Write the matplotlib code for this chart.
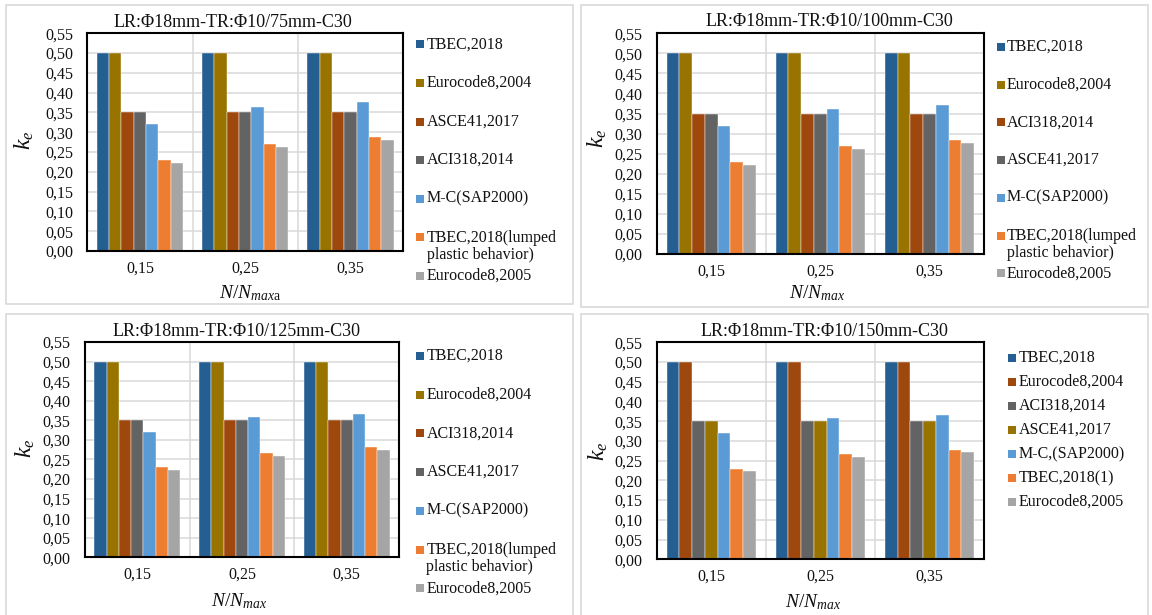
import numpy as np
import matplotlib
matplotlib.use("Agg")
import matplotlib.pyplot as plt
from matplotlib.patches import Rectangle
from matplotlib.ticker import FixedLocator, FuncFormatter
from matplotlib.transforms import Affine2D

plt.rcParams["font.family"] = ["Liberation Serif", "DejaVu Serif"]
plt.rcParams["mathtext.fontset"] = "custom"
plt.rcParams["mathtext.rm"] = "Liberation Serif"
plt.rcParams["mathtext.it"] = "Liberation Serif:italic"

# ---------------------------------------------------------------- data
categories = ["0,15", "0,25", "0,35"]

titles = [
    "LR:Φ18mm-TR:Φ10/75mm-C30",
    "LR:Φ18mm-TR:Φ10/100mm-C30",
    "LR:Φ18mm-TR:Φ10/125mm-C30",
    "LR:Φ18mm-TR:Φ10/150mm-C30",
]

xlabels = [r"$N/N_{max\mathrm{a}}$", r"$N/N_{max}$", r"$N/N_{max}$", r"$N/N_{max}$"]

labels_75 = ["TBEC,2018", "Eurocode8,2004", "ASCE41,2017", "ACI318,2014",
             "M-C(SAP2000)", "TBEC,2018(lumped\nplastic behavior)", "Eurocode8,2005"]
labels_100 = ["TBEC,2018", "Eurocode8,2004", "ACI318,2014", "ASCE41,2017",
              "M-C(SAP2000)", "TBEC,2018(lumped\nplastic behavior)", "Eurocode8,2005"]
labels_125 = labels_100
labels_150 = ["TBEC,2018", "Eurocode8,2004", "ACI318,2014", "ASCE41,2017",
              "M-C,(SAP2000)", "TBEC,2018(1)", "Eurocode8,2005"]

# code-based stiffness ratios (same for every N/Nmax)
tbec_2018 = [0.50, 0.50, 0.50]
ec8_2004 = [0.50, 0.50, 0.50]
aci_318 = [0.35, 0.35, 0.35]
asce_41 = [0.35, 0.35, 0.35]

# moment-curvature and lumped-plasticity results per stirrup spacing
mc_75 = [0.321, 0.363, 0.376]
lumped_75 = [0.230, 0.270, 0.287]
ec8_2005_75 = [0.223, 0.263, 0.280]

mc_100 = [0.320, 0.361, 0.371]
lumped_100 = [0.229, 0.269, 0.284]
ec8_2005_100 = [0.223, 0.261, 0.277]

mc_125 = [0.319, 0.358, 0.367]
lumped_125 = [0.230, 0.267, 0.281]
ec8_2005_125 = [0.223, 0.260, 0.274]

mc_150 = [0.320, 0.359, 0.366]
lumped_150 = [0.230, 0.268, 0.278]
ec8_2005_150 = [0.223, 0.259, 0.273]

# ---------------------------------------------------------------- styles
BLUE, OLIVE, RUST, DGRAY = "#255E91", "#997300", "#9E480E", "#636363"
LBLUE, ORANGE, LGRAY = "#5B9BD5", "#ED7D31", "#A5A5A5"
colors_std = [BLUE, OLIVE, RUST, DGRAY, LBLUE, ORANGE, LGRAY]
colors_150 = [BLUE, RUST, DGRAY, OLIVE, LBLUE, ORANGE, LGRAY]

panels = [
    dict(title=titles[0], xlabel=xlabels[0], labels=labels_75, colors=colors_std,
         series=[tbec_2018, ec8_2004, asce_41, aci_318, mc_75, lumped_75, ec8_2005_75],
         ax=(87.3, 403.3, 33.3, 251.0), frame=(6, 5, 572.7, 304),
         title_xy=(233, 22.5), ylab_xy=(24.5, 140), xlab_xy=(250, 298.3),
         leg=(420, 426.7, 44.3, 38.6)),
    dict(title=titles[1], xlabel=xlabels[1], labels=labels_100, colors=colors_std,
         series=[tbec_2018, ec8_2004, aci_318, asce_41, mc_100, lumped_100, ec8_2005_100],
         ax=(656.7, 984.0, 33.3, 254.0), frame=(580.7, 5, 1148, 306.7),
         title_xy=(829, 22.0), ylab_xy=(597, 138), xlab_xy=(817, 298.3),
         leg=(1000.6, 1007.0, 47.0, 37.7)),
    dict(title=titles[2], xlabel=xlabels[2], labels=labels_125, colors=colors_std,
         series=[tbec_2018, ec8_2004, aci_318, asce_41, mc_125, lumped_125, ec8_2005_125],
         ax=(85.0, 399.0, 342.0, 557.3), frame=(6, 314, 572.7, 640),
         title_xy=(237, 331), ylab_xy=(25.7, 448), xlab_xy=(239, 606),
         leg=(420, 426.5, 356.0, 38.7)),
    dict(title=titles[3], xlabel=xlabels[3], labels=labels_150, colors=colors_150,
         series=[tbec_2018, ec8_2004, aci_318, asce_41, mc_150, lumped_150, ec8_2005_150],
         ax=(656.7, 984.0, 342.3, 559.3), frame=(580.7, 314, 1148, 640),
         title_xy=(824, 331), ylab_xy=(598, 451), xlab_xy=(813, 607),
         leg=(1011.7, 1019.0, 358.0, 24.0)),
]

W, H = 1152, 615
fig = plt.figure(figsize=(W / 100, H / 100), dpi=100)
fig.patch.set_facecolor("white")
# pixel coordinates with the origin at the top-left corner
px = Affine2D().scale(1 / W, -1 / H).translate(0, 1) + fig.transFigure

GRID = "#D9D9D9"
TEXT = "#111111"
n_series = 7
bar_w = 0.117
x = np.arange(len(categories))
comma = FuncFormatter(lambda v, _: f"{v:.2f}".replace(".", ","))

for p in panels:
    # light chart-area border
    fx0, fy0, fx1, fy1 = p["frame"]
    fig.add_artist(Rectangle((fx0, fy0), fx1 - fx0, fy1 - fy0, transform=px,
                             facecolor="white", edgecolor=GRID, linewidth=1.2,
                             zorder=0))

    l, r, t, b = p["ax"]
    ax = fig.add_axes([l / W, 1 - b / H, (r - l) / W, (b - t) / H])
    ax.set_axisbelow(True)
    for i, (vals, col) in enumerate(zip(p["series"], p["colors"])):
        ax.bar(x + (i - (n_series - 1) / 2) * bar_w, vals, width=bar_w,
               color=col, edgecolor="white", linewidth=0.3)

    ax.set_xlim(-0.5, len(categories) - 0.5)
    ax.set_ylim(0, 0.55)
    ax.yaxis.set_major_locator(FixedLocator(np.round(np.arange(0, 0.5501, 0.05), 2)))
    ax.yaxis.set_major_formatter(comma)
    ax.set_xticks(x)
    ax.set_xticklabels(categories)
    ax.xaxis.set_minor_locator(FixedLocator(x[:-1] + 0.5))
    ax.grid(axis="y", which="major", color=GRID, linewidth=1.1)
    ax.grid(axis="x", which="minor", color=GRID, linewidth=1.1)
    ax.tick_params(axis="both", which="both", length=0, labelsize=11.5,
                   colors=TEXT)
    ax.tick_params(axis="y", pad=10.3)
    ax.tick_params(axis="x", pad=6.8)
    for s in ax.spines.values():
        s.set_color("black")
        s.set_linewidth(1.5)

    fig.text(*p["title_xy"], p["title"], transform=px, ha="center", va="center",
             fontsize=13, color=TEXT)
    fig.text(*p["ylab_xy"], r"$k_e$", transform=px, ha="center", va="center",
             rotation=90, fontsize=17, color=TEXT)
    fig.text(*p["xlab_xy"], p["xlabel"], transform=px, ha="center",
             va="baseline", fontsize=14, color=TEXT)

    # legend
    mx, tx, y0, step = p["leg"]
    sq = 8
    for i, (lab, col) in enumerate(zip(p["labels"], p["colors"])):
        yy = y0 + i * step
        fig.add_artist(Rectangle((mx - sq / 2, yy - sq / 2), sq, sq, transform=px,
                                 facecolor=col, edgecolor="none"))
        n_lines = lab.count("\n") + 1
        fig.text(tx, yy + (n_lines - 1) * 17.7 / 2, lab, transform=px,
                 ha="left", va="center", fontsize=11.5, linespacing=1.1,
                 color=TEXT)

fig.savefig("out.png", dpi=100, facecolor="white")
